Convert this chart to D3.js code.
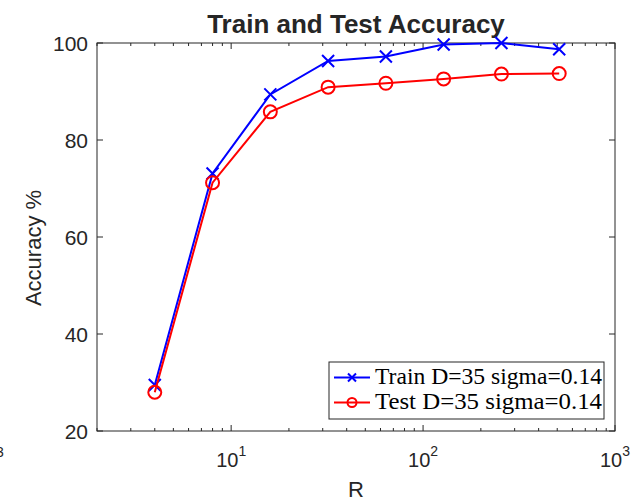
<!DOCTYPE html>
<html>
<head>
<meta charset="UTF-8">
<title>Train and Test Accuracy</title>
<script src="https://d3js.org/d3.v7.min.js"></script>
<style>
  body { margin: 0; background: #fff; }
  svg { display: block; }
  text { font-family: "Liberation Sans", Arial, Helvetica, sans-serif; fill: #262626; }
  .legend text { font-family: "Liberation Serif", "Times New Roman", serif; fill: #000; }
</style>
</head>
<body>
<div id="chart"></div>
<script>
// data
const R = [4, 8, 16, 32, 64, 128, 256, 512];
const trainAcc = [29.5, 73.1, 89.4, 96.3, 97.2, 99.7, 100, 98.7];
const testAcc = [28, 71.2, 85.8, 90.9, 91.7, 92.6, 93.6, 93.7];
const yTicks = [20, 40, 60, 80, 100];
const xMajor = [10, 100, 1000];
const seriesNames = ["Train D=35 sigma=0.14", "Test D=35 sigma=0.14"];

const width = 636, height = 502;
const m = { left: 97, right: 21, top: 43, bottom: 71 };

const svg = d3.select("#chart").append("svg")
  .attr("width", width).attr("height", height);

svg.append("rect").attr("width", width).attr("height", height).attr("fill", "#fff");

const x = d3.scaleLog().domain([2, 1000]).range([m.left, width - m.right]);
const y = d3.scaleLinear().domain([20, 100]).range([height - m.bottom, m.top]);

const x0 = x.range()[0], x1 = x.range()[1];
const y0 = y.range()[0], y1 = y.range()[1];

// minor ticks on log axis
const xMinor = [];
[1, 10, 100].forEach(d => { for (let k = 2; k <= 9; k++) if (d * k >= 2) xMinor.push(d * k); });

const axis = svg.append("g").attr("stroke", "#262626").attr("stroke-width", 1).attr("fill", "none");
axis.append("rect").attr("x", x0).attr("y", y1).attr("width", x1 - x0).attr("height", y0 - y1);

xMinor.forEach(v => {
  axis.append("line").attr("x1", x(v)).attr("x2", x(v)).attr("y1", y0).attr("y2", y0 - 3);
  axis.append("line").attr("x1", x(v)).attr("x2", x(v)).attr("y1", y1).attr("y2", y1 + 3);
});
xMajor.forEach(v => {
  axis.append("line").attr("x1", x(v)).attr("x2", x(v)).attr("y1", y0).attr("y2", y0 - 6);
  axis.append("line").attr("x1", x(v)).attr("x2", x(v)).attr("y1", y1).attr("y2", y1 + 6);
});
yTicks.forEach(v => {
  axis.append("line").attr("x1", x0).attr("x2", x0 + 6).attr("y1", y(v)).attr("y2", y(v));
  axis.append("line").attr("x1", x1).attr("x2", x1 - 6).attr("y1", y(v)).attr("y2", y(v));
});

// y tick labels
svg.append("g").selectAll("text").data(yTicks).join("text")
  .attr("x", x0 - 9).attr("y", d => y(d)).attr("dy", "0.36em")
  .attr("text-anchor", "end").attr("font-size", 21)
  .text(d => d);

// x tick labels 10^n
const xl = svg.append("g").selectAll("text").data(xMajor).join("text")
  .attr("x", d => x(d)).attr("y", 467)
  .attr("text-anchor", "middle").attr("font-size", 20);
xl.append("tspan").text("10");
xl.append("tspan").attr("dy", -11).attr("font-size", 14).text(d => Math.round(Math.log10(d)));

// stray fragment at left edge
svg.append("text").attr("x", -4).attr("y", 457).attr("font-size", 14).text("3");

// title and axis labels
svg.append("text").attr("x", 356).attr("y", 33).attr("text-anchor", "middle")
  .attr("font-size", 26).attr("font-weight", "bold").attr("fill", "#000")
  .text("Train and Test Accuracy");
svg.append("text").attr("x", 356).attr("y", 497).attr("text-anchor", "middle")
  .attr("font-size", 22).text("R");
svg.append("text").attr("transform", "translate(41,248) rotate(-90)")
  .attr("text-anchor", "middle").attr("font-size", 22).text("Accuracy %");

const line = d3.line().x(d => x(d[0])).y(d => y(d[1]));
const trainPts = R.map((r, i) => [r, trainAcc[i]]);
const testPts = R.map((r, i) => [r, testAcc[i]]);

function drawCross(g, cx, cy, s, color) {
  g.append("path").attr("d", `M${cx - s},${cy - s}L${cx + s},${cy + s}M${cx - s},${cy + s}L${cx + s},${cy - s}`)
    .attr("stroke", color).attr("stroke-width", 2).attr("fill", "none");
}
function drawCircle(g, cx, cy, r, color) {
  g.append("circle").attr("cx", cx).attr("cy", cy).attr("r", r)
    .attr("stroke", color).attr("stroke-width", 2).attr("fill", "none");
}

const plot = svg.append("g");
plot.append("path").datum(trainPts).attr("d", line)
  .attr("stroke", "#0000ff").attr("stroke-width", 2).attr("fill", "none");
trainPts.forEach(p => drawCross(plot, x(p[0]), y(p[1]), 6, "#0000ff"));
plot.append("path").datum(testPts).attr("d", line)
  .attr("stroke", "#ff0000").attr("stroke-width", 2).attr("fill", "none");
testPts.forEach(p => drawCircle(plot, x(p[0]), y(p[1]), 6.5, "#ff0000"));

// legend
const lg = svg.append("g").attr("class", "legend");
lg.append("rect").attr("x", 329).attr("y", 362).attr("width", 275).attr("height", 57)
  .attr("fill", "#fff").attr("stroke", "#262626").attr("stroke-width", 1);
const rows = [
  { name: seriesNames[0], color: "#0000ff", mark: "x", ly: 377.5, ty: 384 },
  { name: seriesNames[1], color: "#ff0000", mark: "o", ly: 402.5, ty: 409 }
];
rows.forEach(r => {
  lg.append("line").attr("x1", 334).attr("x2", 370).attr("y1", r.ly).attr("y2", r.ly)
    .attr("stroke", r.color).attr("stroke-width", 2);
  if (r.mark === "x") drawCross(lg, 352, r.ly, 4, r.color);
  else drawCircle(lg, 352, r.ly, 4.5, r.color);
  lg.append("text").attr("x", 375).attr("y", r.ty).attr("font-size", 23)
    .attr("textLength", 227).attr("lengthAdjust", "spacingAndGlyphs").text(r.name);
});
</script>
</body>
</html>
